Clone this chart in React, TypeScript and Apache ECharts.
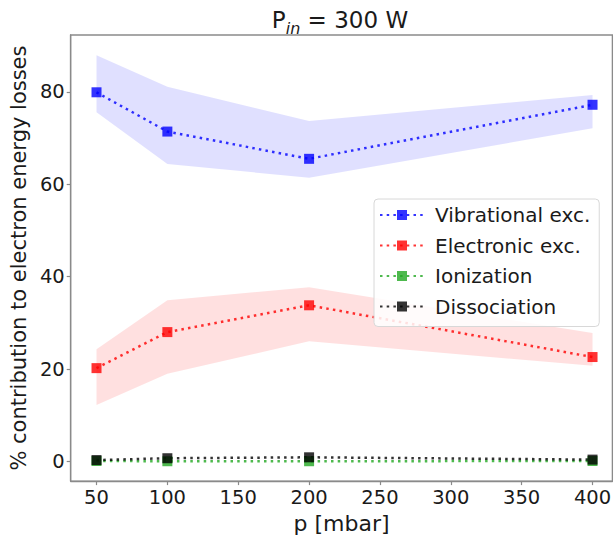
import React, { useEffect, useRef } from "react";
import * as echarts from "echarts";

const pressures = [50, 100, 200, 400];
const xTicks = [50, 100, 150, 200, 250, 300, 350, 400];
const yTicks = [0, 20, 40, 60, 80];

const vibrational = [79.9, 71.4, 65.5, 77.2];
const vibrationalLow = [75.6, 64.4, 61.4, 72.1];
const vibrationalHigh = [87.9, 81.1, 73.7, 79.3];

const electronic = [20.2, 28.0, 33.8, 22.6];
const electronicLow = [12.2, 19.0, 26.0, 20.7];
const electronicHigh = [24.3, 34.9, 37.7, 27.8];

const ionization = [0.1, 0.05, 0.05, 0.1];
const dissociation = [0.3, 0.7, 0.9, 0.4];

const FONT = "DejaVu Sans";

function bandSeries(low: number[], high: number[], color: string) {
  return {
    type: "custom",
    silent: true,
    z: 1,
    data: pressures.map((p, i) => [p, low[i], high[i]]),
    encode: { x: 0, y: [1, 2] },
    renderItem: (params: any, api: any) => {
      if (params.dataIndex !== 0) return null;
      const upper = pressures.map((p, i) => api.coord([p, high[i]]));
      const lower = pressures.map((p, i) => api.coord([p, low[i]])).reverse();
      return {
        type: "polygon",
        shape: { points: upper.concat(lower) },
        style: { fill: color, stroke: "none" },
      };
    },
  };
}

function lineSeries(name: string, values: number[], color: string) {
  return {
    type: "line",
    name,
    z: 3,
    data: pressures.map((p, i) => [p, values[i]]),
    symbol: "rect",
    symbolSize: 10,
    showSymbol: true,
    lineStyle: { color, width: 2.5, type: [2.5, 4.2], opacity: 0.8 },
    itemStyle: { color, opacity: 0.8 },
  };
}

export default function App() {
  const ref = useRef<HTMLDivElement>(null);
  useEffect(() => {
    if (!ref.current) return;
    const chart = echarts.init(ref.current, null, { renderer: "svg" });
    const axisColor = "#8a8a8a";
    chart.setOption({
      animation: false,
      backgroundColor: "#ffffff",
      textStyle: { fontFamily: FONT },
      grid: {
        left: 67,
        top: 35,
        right: 1.5,
        bottom: 49.7,
        show: true,
        borderColor: axisColor,
        borderWidth: 1.3,
        backgroundColor: "transparent",
      },
      graphic: [
        {
          type: "text",
          x: 340,
          y: 31,
          z: 10,
          style: {
            text: "{a|P}{b|in}{a| = 300 W}",
            textAlign: "center",
            textVerticalAlign: "bottom",
            rich: {
              a: { fontFamily: FONT, fontSize: 23, fill: "#1a1a1a", verticalAlign: "bottom" },
              b: {
                fontFamily: FONT,
                fontSize: 16,
                fontStyle: "italic",
                fill: "#1a1a1a",
                verticalAlign: "bottom",
                padding: [0, 0, -5, 0],
              },
            },
          },
        },
      ],
      xAxis: {
        type: "value",
        min: 31.8,
        max: 414,
        name: "p [mbar]",
        nameLocation: "middle",
        nameGap: 27,
        nameTextStyle: { fontFamily: FONT, fontSize: 22, color: "#1a1a1a" },
        axisLine: { show: true, onZero: false, lineStyle: { color: axisColor, width: 1.3 } },
        axisTick: { show: true, length: 4, inside: false, customValues: xTicks, lineStyle: { color: axisColor, width: 1.2 } },
        axisLabel: { customValues: xTicks, fontFamily: FONT, fontSize: 19.5, color: "#1a1a1a", margin: 6 },
        splitLine: { show: false },
      },
      yAxis: {
        type: "value",
        min: -4.25,
        max: 92.3,
        name: "% contribution to electron energy losses",
        nameLocation: "middle",
        nameGap: 40,
        nameTextStyle: { fontFamily: FONT, fontSize: 21, color: "#1a1a1a" },
        axisLine: { show: true, onZero: false, lineStyle: { color: axisColor, width: 1.3 } },
        axisTick: { show: true, length: 4, inside: false, customValues: yTicks, lineStyle: { color: axisColor, width: 1.2 } },
        axisLabel: { customValues: yTicks, fontFamily: FONT, fontSize: 19.5, color: "#1a1a1a", margin: 6 },
        splitLine: { show: false },
      },
      legend: {
        orient: "vertical",
        left: 374,
        top: 199,
        padding: [6, 9, 10, 5],
        itemWidth: 44,
        itemHeight: 12.5,
        itemGap: 10.5,
        backgroundColor: "rgba(255,255,255,0.85)",
        borderColor: "#d8d8d8",
        borderWidth: 1,
        borderRadius: 4,
        textStyle: { fontFamily: FONT, fontSize: 20, color: "#1a1a1a", lineHeight: 20, padding: [0, 0, 0, 6] },
        data: ["Vibrational exc.", "Electronic exc.", "Ionization", "Dissociation"],
      },
      series: [
        bandSeries(vibrationalLow, vibrationalHigh, "rgba(0,0,255,0.12)"),
        bandSeries(electronicLow, electronicHigh, "rgba(255,0,0,0.12)"),
        lineSeries("Vibrational exc.", vibrational, "#0000ff"),
        lineSeries("Electronic exc.", electronic, "#ff0000"),
        lineSeries("Ionization", ionization, "#22a822"),
        lineSeries("Dissociation", dissociation, "#000000"),
      ],
    });
    return () => chart.dispose();
  }, []);
  return (
    <div
      ref={ref}
      style={{ position: "fixed", left: 0, top: 0, width: 614, height: 539, background: "#fff" }}
    />
  );
}
